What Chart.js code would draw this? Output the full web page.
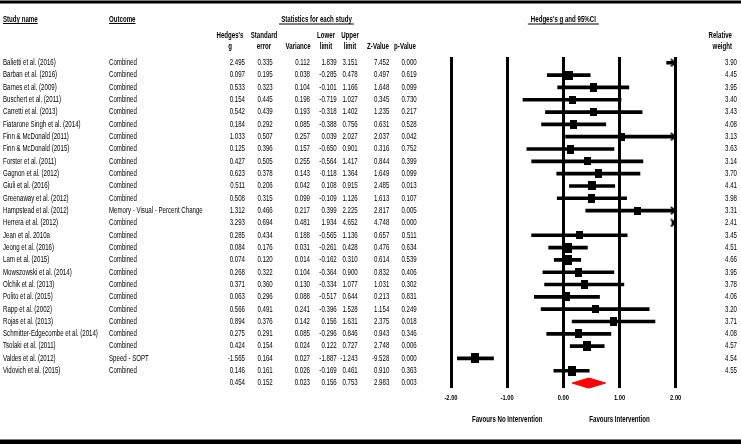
<!DOCTYPE html>
<html><head><meta charset="utf-8">
<script src="https://cdn.jsdelivr.net/npm/chart.js@4/dist/chart.umd.min.js"></script>
<style>html,body{margin:0;padding:0;background:#fff;}canvas{display:block;}</style>
</head><body>
<canvas id="c" width="741" height="444" style="width:741px;height:444px"></canvas>
<script>
const studies = ["Balietti et al. (2016)","Barban et al. (2016)","Barnes et al. (2009)","Buschert et al. (2011)","Carretti et al. (2013)","Fiatarone Singh et al. (2014)","Finn & McDonald (2011)","Finn & McDonald (2015)","Forster et al. (2011)","Gagnon et al. (2012)","Giuli et al. (2016)","Greenaway et al. (2012)","Hampstead et al. (2012)","Herrera et al. (2012)","Jean et al. 2010a","Jeong et al. (2016)","Lam et al. (2015)","Mowszowski et al. (2014)","Olchik et al. (2013)","Polito et al. (2015)","Rapp et al. (2002)","Rojas et al. (2013)","Schmitter-Edgecombe et al. (2014)","Tsolaki et al. (2011)","Valdes et al. (2012)","Vidovich et al. (2015)"];
const outcomes = ["Combined","Combined","Combined","Combined","Combined","Combined","Combined","Combined","Combined","Combined","Combined","Combined","Memory - Visual - Percent Change","Combined","Combined","Combined","Combined","Combined","Combined","Combined","Combined","Combined","Combined","Combined","Speed - SOPT","Combined"];
const hedgesG = [2.495,0.097,0.533,0.154,0.542,0.184,1.033,0.125,0.427,0.623,0.511,0.508,1.312,3.293,0.285,0.084,0.074,0.268,0.371,0.063,0.566,0.894,0.275,0.424,-1.565,0.146];
const stdErr = [0.335,0.195,0.323,0.445,0.439,0.292,0.507,0.396,0.505,0.378,0.206,0.315,0.466,0.694,0.434,0.176,0.120,0.322,0.360,0.296,0.491,0.376,0.291,0.154,0.164,0.161];
const variance = [0.112,0.038,0.104,0.198,0.193,0.085,0.257,0.157,0.255,0.143,0.042,0.099,0.217,0.481,0.188,0.031,0.014,0.104,0.130,0.088,0.241,0.142,0.085,0.024,0.027,0.026];
const lowerLimit = [1.839,-0.285,-0.101,-0.719,-0.318,-0.388,0.039,-0.650,-0.564,-0.118,0.108,-0.109,0.399,1.934,-0.565,-0.261,-0.162,-0.364,-0.334,-0.517,-0.396,0.156,-0.296,0.122,-1.887,-0.169];
const upperLimit = [3.151,0.478,1.166,1.027,1.402,0.756,2.027,0.901,1.417,1.364,0.915,1.126,2.225,4.652,1.136,0.428,0.310,0.900,1.077,0.644,1.528,1.631,0.846,0.727,-1.243,0.461];
const zValue = [7.452,0.497,1.648,0.345,1.235,0.631,2.037,0.316,0.844,1.649,2.485,1.613,2.817,4.748,0.657,0.476,0.614,0.832,1.031,0.213,1.154,2.375,0.943,2.748,-9.528,0.910];
const pValue = [0.000,0.619,0.099,0.730,0.217,0.528,0.042,0.752,0.399,0.099,0.013,0.107,0.005,0.000,0.511,0.634,0.539,0.406,0.302,0.831,0.249,0.018,0.346,0.006,0.000,0.363];
const relWeight = [3.90,4.45,3.95,3.40,3.43,4.08,3.13,3.63,3.14,3.70,4.41,3.98,3.31,2.41,3.45,4.51,4.66,3.95,3.78,4.06,3.20,3.71,4.08,4.57,4.54,4.55];
const pooledG = 0.454, pooledSE = 0.152, pooledVar = 0.023, pooledLower = 0.156, pooledUpper = 0.753, pooledZ = 2.983, pooledP = 0.003;
const xTicks = [-2, -1, 0, 1, 2];
const colHeaders = [["Hedges's","g"],["Standard","error"],["Variance"],["Lower","limit"],["Upper","limit"],["Z-Value"],["p-Value"]];

const nRows = studies.length + 1;
const pooledRow = studies.length;
const xMin = xTicks[0], xMax = xTicks[xTicks.length - 1];

const SX = 0.72;
const FONT = '"Liberation Sans", Arial, sans-serif';
function txt(ctx, s, x, y, align, bold, size) {
  ctx.save();
  ctx.font = (bold ? 'bold ' : '') + (size || 8.5) + 'px ' + FONT;
  ctx.textBaseline = 'middle';
  ctx.textAlign = align;
  ctx.fillStyle = '#000';
  ctx.translate(x, y);
  ctx.scale(SX, 1);
  ctx.fillText(s, 0, 0);
  const w = ctx.measureText(s).width * SX;
  ctx.restore();
  return w;
}
function uline(ctx, x1, x2, y) {
  ctx.save(); ctx.strokeStyle = '#000'; ctx.lineWidth = 1;
  ctx.beginPath(); ctx.moveTo(x1, y + 0.5); ctx.lineTo(x2, y + 0.5); ctx.stroke(); ctx.restore();
}

function squareImg(w) {
  const cw = Math.round(4 + 0.8 * w), ch = Math.round(5 + w);
  const c = document.createElement('canvas'); c.width = cw; c.height = ch;
  const g = c.getContext('2d'); g.fillStyle = '#000'; g.fillRect(0, 0, cw, ch);
  return c;
}
const squares = relWeight.map(squareImg);
function arrowImg() {
  const c = document.createElement('canvas'); c.width = 14; c.height = 9;
  const g = c.getContext('2d'); g.strokeStyle = '#000'; g.lineWidth = 1.6;
  g.beginPath(); g.moveTo(2, 1); g.lineTo(7, 4.5); g.lineTo(2, 8); g.stroke();
  return c;
}
const arrow = arrowImg();

const colRight = [245, 272.7, 310, 336.7, 357.7, 389.3, 416.7];
const colCenter = [230, 264, 298, 326, 350, 378, 405];

const tablePlugin = {
  id: 'table',
  afterDraw(chart) {
    const ctx = chart.ctx;
    const ys = chart.scales.y, xs = chart.scales.x;
    ctx.save(); ctx.fillStyle = '#000';
    ctx.fillRect(0, 0.5, chart.width, 3);
    ctx.fillRect(0, 439.5, chart.width, 4.5);
    ctx.restore();
    let w = txt(ctx, 'Study name', 3, 19.5, 'left', true);
    uline(ctx, 3, 3 + w, 23);
    w = txt(ctx, 'Outcome', 109, 19.5, 'left', true);
    uline(ctx, 109, 109 + w, 23);
    w = txt(ctx, 'Statistics for each study', 316.5, 19.5, 'center', true);
    uline(ctx, 316.5 - w / 2 - 2, 316.5 + w / 2 + 2, 23.5);
    const c0 = xs.getPixelForValue(0);
    w = txt(ctx, "Hedges's g and 95%CI", c0, 19.5, 'center', true);
    uline(ctx, c0 - w / 2 - 3, c0 + w / 2 + 3, 23.5);
    colHeaders.forEach((h, k) => {
      if (h.length === 2) { txt(ctx, h[0], colCenter[k], 36, 'center', true); txt(ctx, h[1], colCenter[k], 46.7, 'center', true); }
      else txt(ctx, h[0], colCenter[k], 46.7, 'center', true);
    });
    txt(ctx, 'Relative', 732, 36, 'right', true);
    txt(ctx, 'weight', 732, 46.7, 'right', true);
    studies.forEach((s, i) => {
      const y = ys.getPixelForValue(i);
      txt(ctx, s, 3, y, 'left', false);
      txt(ctx, outcomes[i], 109, y, 'left', false);
      const vals = [hedgesG[i], stdErr[i], variance[i], lowerLimit[i], upperLimit[i], zValue[i], pValue[i]];
      vals.forEach((v, k) => txt(ctx, v.toFixed(3), colRight[k], y, 'right', false));
      txt(ctx, relWeight[i].toFixed(2), 737, y, 'right', false);
    });
    const yp = ys.getPixelForValue(pooledRow);
    [pooledG, pooledSE, pooledVar, pooledLower, pooledUpper, pooledZ, pooledP].forEach((v, k) => txt(ctx, v.toFixed(3), colRight[k], yp, 'right', false));
    const yt = chart.chartArea.bottom + 10;
    xTicks.forEach(t => txt(ctx, t.toFixed(2), xs.getPixelForValue(t), yt, 'center', true, 8));
    txt(ctx, 'Favours No Intervention', xs.getPixelForValue(-1), 420, 'center', true);
    txt(ctx, 'Favours Intervention', xs.getPixelForValue(1), 420, 'center', true);
  }
};

const dh = 0.41;
new Chart(document.getElementById('c'), {
  type: 'bar',
  data: {
    datasets: [
      {
        type: 'bar', indexAxis: 'y',
        data: studies.map((s, i) => ({ x: [lowerLimit[i], upperLimit[i]], y: i })),
        backgroundColor: '#000', borderWidth: 0, barThickness: 3, grouped: false,
        clip: { left: 0, right: 0, top: 10, bottom: 10 }, order: 3
      },
      {
        type: 'line', showLine: false,
        data: hedgesG.map((g, i) => ({ x: g, y: i })),
        pointStyle: c => squares[c.dataIndex], pointRadius: 4,
        clip: { left: 10, right: 0, top: 10, bottom: 10 }, order: 2
      },
      {
        type: 'line', showLine: false,
        data: studies.map((s, i) => upperLimit[i] > xMax ? { x: xMax, y: i } : null).filter(Boolean),
        pointStyle: arrow, pointRadius: 4, clip: false, order: 1
      },
      {
        type: 'line',
        data: [
          { x: pooledLower, y: pooledRow }, { x: pooledG, y: pooledRow - dh },
          { x: pooledUpper, y: pooledRow }, { x: pooledG, y: pooledRow + dh },
          { x: pooledLower, y: pooledRow }
        ],
        borderColor: '#ff0000', backgroundColor: '#ff0000', borderWidth: 1,
        fill: 'shape', pointRadius: 0, tension: 0, clip: false, order: 0
      }
    ]
  },
  options: {
    responsive: false, animation: false, events: [],
    layout: { padding: { left: 451, right: 65.3, top: 57, bottom: 56 } },
    plugins: { legend: { display: false }, tooltip: { enabled: false } },
    scales: {
      x: {
        type: 'linear', min: xMin, max: xMax, offset: false,
        afterBuildTicks: s => { s.ticks = xTicks.map(v => ({ value: v })); },
        ticks: { display: false },
        grid: { color: '#000', lineWidth: 3, drawTicks: false, offset: false },
        border: { display: false },
        afterFit: s => { s.height = 0; }
      },
      y: {
        type: 'linear', reverse: true, min: -0.47, max: nRows - 1 + 0.4, display: false,
        offset: false, grid: { offset: false }
      }
    }
  },
  plugins: [tablePlugin]
});
</script>
</body></html>
